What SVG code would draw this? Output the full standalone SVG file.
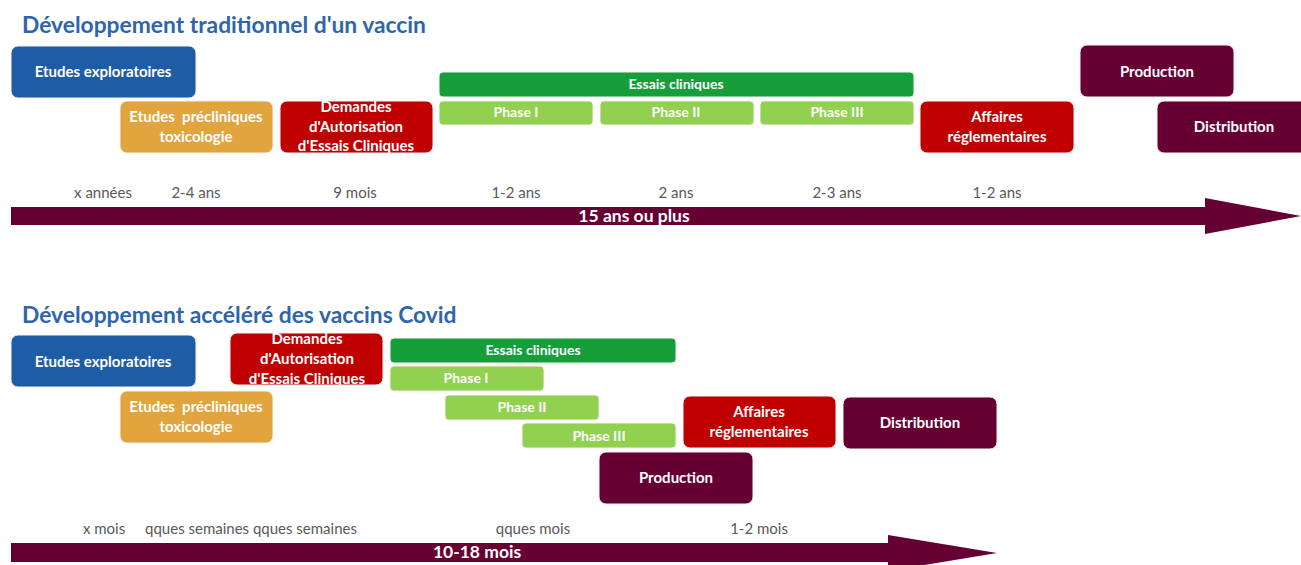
<svg xmlns="http://www.w3.org/2000/svg" width="1301" height="565" viewBox="0 0 1301 565">
<style>
  .title { font-family: Lato, "Liberation Sans", sans-serif; font-weight: bold; font-size: 22.8px; fill: #2E65AD; }
  .lbl { font-family: Lato, "Liberation Sans", sans-serif; font-weight: bold; font-size: 15px; fill: #ffffff; text-anchor: middle; }
  .lbls { font-family: Lato, "Liberation Sans", sans-serif; font-weight: bold; font-size: 14px; fill: #ffffff; text-anchor: middle; }
  .time { font-family: Lato, "Liberation Sans", sans-serif; font-size: 15px; fill: #595959; text-anchor: middle; }
  .blue { fill: #1F5CA6; }
  .orange { fill: #E2A43D; }
  .red { fill: #C00000; }
  .dgreen { fill: #169E3A; }
  .lgreen { fill: #92D050; }
  .plum { fill: #660033; }
  rect { stroke: #f2f2f2; stroke-width: 1; }
  .arrow { fill: #660033; }
  .arrowtxt { font-family: Lato, "Liberation Sans", sans-serif; font-weight: bold; font-size: 17.5px; fill: #ffffff; text-anchor: middle; }
</style>

<text class="title" x="22" y="33">Développement traditionnel d'un vaccin</text>

<g id="trad-exploratoires"><rect class="blue" x="11" y="46" width="185" height="52" rx="7"/><text class="lbl" x="103" y="77">Etudes exploratoires</text></g>
<g id="trad-precliniques"><rect class="orange" x="120" y="101" width="153" height="52" rx="7"/><text class="lbl" x="196" y="122" xml:space="preserve">Etudes  précliniques</text><text class="lbl" x="196" y="142">toxicologie</text></g>
<g id="trad-demandes"><rect class="red" x="280" y="101" width="153" height="52" rx="7"/><text class="lbl" x="356" y="112">Demandes</text><text class="lbl" x="356" y="132">d'Autorisation</text><text class="lbl" x="356" y="151">d'Essais Cliniques</text></g>
<g id="trad-essais"><rect class="dgreen" x="439" y="72" width="475" height="25" rx="4"/><text class="lbls" x="676" y="89">Essais cliniques</text></g>
<g id="trad-phase1"><rect class="lgreen" x="439" y="101" width="154" height="24" rx="4"/><text class="lbls" x="516" y="117">Phase I</text></g>
<g id="trad-phase2"><rect class="lgreen" x="600" y="101" width="154" height="24" rx="4"/><text class="lbls" x="676" y="117">Phase II</text></g>
<g id="trad-phase3"><rect class="lgreen" x="760" y="101" width="154" height="24" rx="4"/><text class="lbls" x="837" y="117">Phase III</text></g>
<g id="trad-affaires"><rect class="red" x="920" y="101" width="154" height="52" rx="7"/><text class="lbl" x="997" y="122">Affaires</text><text class="lbl" x="997" y="142">réglementaires</text></g>
<g id="trad-production"><rect class="plum" x="1080" y="45" width="154" height="52" rx="7"/><text class="lbl" x="1157" y="77">Production</text></g>
<g id="trad-distribution"><rect class="plum" x="1157" y="101" width="160" height="52" rx="7"/><text class="lbl" x="1234" y="132">Distribution</text></g>

<g id="trad-times">
<text class="time" x="103" y="198">x années</text>
<text class="time" x="196" y="198">2-4 ans</text>
<text class="time" x="355" y="198">9 mois</text>
<text class="time" x="516" y="198">1-2 ans</text>
<text class="time" x="676" y="198">2 ans</text>
<text class="time" x="837" y="198">2-3 ans</text>
<text class="time" x="997" y="198">1-2 ans</text>
</g>

<g id="connectors">
<g id="trad-arrow"><polygon class="arrow" points="11,207 1205,207 1205,198 1301,216 1205,234 1205,225 11,225"/><text class="arrowtxt" x="634" y="222">15 ans ou plus</text></g>
<g id="covid-arrow"><polygon class="arrow" points="11,543 888,543 888,535 997,553 888,571 888,562 11,562"/><text class="arrowtxt" x="477" y="558">10-18 mois</text></g>
</g>

<text class="title" x="22" y="323">Développement accéléré des vaccins Covid</text>

<g id="cov-exploratoires"><rect class="blue" x="11" y="335" width="185" height="52" rx="7"/><text class="lbl" x="103" y="367">Etudes exploratoires</text></g>
<g id="cov-demandes"><rect class="red" x="230" y="333" width="153" height="52" rx="7"/><text class="lbl" x="307" y="344">Demandes</text><text class="lbl" x="307" y="364">d'Autorisation</text><text class="lbl" x="307" y="384">d'Essais Cliniques</text></g>
<g id="cov-essais"><rect class="dgreen" x="390" y="338" width="286" height="25" rx="4"/><text class="lbls" x="533" y="355">Essais cliniques</text></g>
<g id="cov-phase1"><rect class="lgreen" x="390" y="366" width="154" height="25" rx="4"/><text class="lbls" x="466" y="383">Phase I</text></g>
<g id="cov-phase2"><rect class="lgreen" x="445" y="395" width="154" height="25" rx="4"/><text class="lbls" x="522" y="412">Phase II</text></g>
<g id="cov-phase3"><rect class="lgreen" x="522" y="423" width="154" height="25" rx="4"/><text class="lbls" x="599" y="441">Phase III</text></g>
<g id="cov-precliniques"><rect class="orange" x="120" y="391" width="153" height="52" rx="7"/><text class="lbl" x="196" y="412" xml:space="preserve">Etudes  précliniques</text><text class="lbl" x="196" y="432">toxicologie</text></g>
<g id="cov-affaires"><rect class="red" x="683" y="396" width="153" height="52" rx="7"/><text class="lbl" x="759" y="417">Affaires</text><text class="lbl" x="759" y="437">réglementaires</text></g>
<g id="cov-distribution"><rect class="plum" x="843" y="397" width="154" height="52" rx="7"/><text class="lbl" x="920" y="428">Distribution</text></g>
<g id="cov-production"><rect class="plum" x="599" y="452" width="154" height="52" rx="7"/><text class="lbl" x="676" y="483">Production</text></g>

<g id="cov-times">
<text class="time" x="104" y="534">x mois</text>
<text class="time" x="251" y="534">qques semaines qques semaines</text>
<text class="time" x="533" y="534">qques mois</text>
<text class="time" x="759" y="534">1-2 mois</text>
</g>
</svg>
